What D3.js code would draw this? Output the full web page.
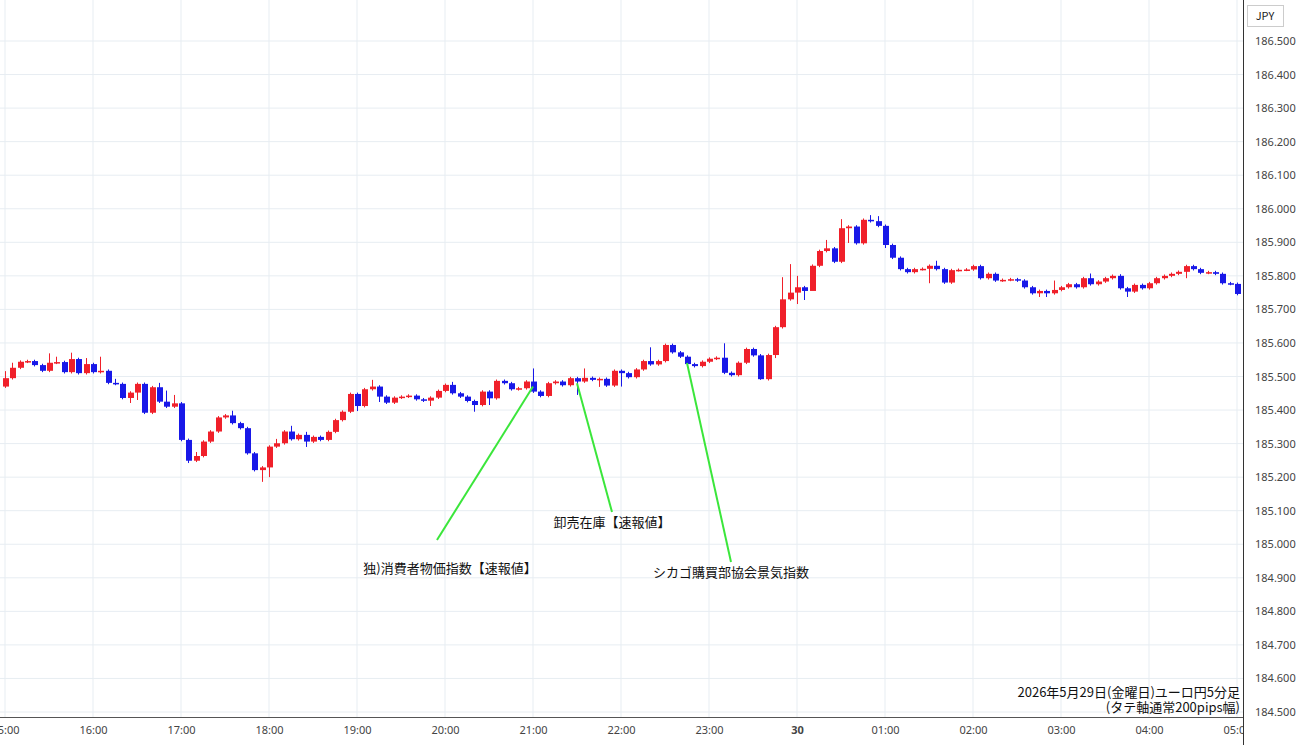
<!DOCTYPE html>
<html><head><meta charset="utf-8">
<script src="https://cdn.jsdelivr.net/npm/d3@7"></script>
<style>body{margin:0;background:#fff;font-family:"Noto Sans CJK JP","Noto Sans",sans-serif}</style>
</head><body><svg id="c" width="1300" height="745"></svg>
<script>
const firstOpen = 185.470;
const closes = [185.495,185.526,185.544,185.546,185.534,185.517,185.541,185.543,185.513,185.552,185.510,185.537,185.513,185.517,185.481,185.478,185.436,185.452,185.478,185.392,
185.468,185.425,185.410,185.420,185.311,185.249,185.263,185.306,185.336,185.378,185.384,185.361,185.346,185.271,185.221,185.229,185.291,185.301,185.336,185.313,
185.326,185.306,185.320,185.311,185.335,185.370,185.395,185.448,185.412,185.462,185.470,185.440,185.422,185.437,185.440,185.443,185.432,185.428,185.437,185.457,
185.475,185.450,185.440,185.427,185.415,185.455,185.435,185.487,185.480,185.462,185.465,185.485,185.455,185.442,185.480,185.485,185.474,185.495,185.485,185.496,
185.490,185.493,185.473,185.517,185.510,185.498,185.521,185.546,185.536,185.546,185.594,185.572,185.559,185.537,185.531,185.544,185.553,185.556,185.511,185.504,
185.541,185.582,185.563,185.492,185.564,185.647,185.730,185.750,185.766,185.755,185.830,185.874,185.882,185.842,185.942,185.947,185.897,185.967,185.963,185.949,
185.892,185.854,185.820,185.811,185.820,185.821,185.830,185.820,185.780,185.817,185.818,185.819,185.829,185.793,185.806,185.786,185.788,185.790,185.786,185.766,
185.748,185.755,185.748,185.758,185.766,185.775,185.766,185.793,185.775,185.783,185.793,185.800,185.763,185.753,185.773,185.763,185.778,185.793,185.800,185.806,
185.812,185.829,185.820,185.809,185.811,185.806,185.778,185.776,185.746];
// notable wick extremes (index: price); others use a short default wick
const highs = {0:185.516,1:185.541,6:185.569,7:185.559,9:185.571,11:185.555,13:185.559,15:185.493,21:185.481,22:185.458,23:185.445,26:185.275,30:185.388,31:185.398,37:185.314,39:185.353,41:185.335,
50:185.490,61:185.484,72:185.524,79:185.524,88:185.587,98:185.599,106:185.796,107:185.835,108:185.800,112:185.907,114:185.969,118:185.981,119:185.978,127:185.845,143:185.786,148:185.807,152:185.805};
const lows = {17:185.421,18:185.430,25:185.242,35:185.186,36:185.200,41:185.290,48:185.397,51:185.424,58:185.412,64:185.395,66:185.415,78:185.445,81:185.469,
84:185.470,103:185.490,105:185.555,108:185.716,109:185.728,110:185.811,113:185.838,115:185.898,120:185.883,121:185.850,126:185.778,141:185.737,142:185.737,153:185.737,161:185.793};
const hourLabels = ["15:00","16:00","17:00","18:00","19:00","20:00","21:00","22:00","23:00","30","01:00","02:00","03:00","04:00","05:00"];
const priceTicks = [184.5,184.6,184.7,184.8,184.9,185.0,185.1,185.2,185.3,185.4,185.5,185.6,185.7,185.8,185.9,186.0,186.1,186.2,186.3,186.4,186.5];
const notes = [
 {text:"独)消費者物価指数【速報値】", idx:72, price:185.470, lx:437, ly:540, tx:450, ty:573},
 {text:"卸売在庫【速報値】", idx:78, price:185.480, lx:612, ly:512, tx:612, ty:527},
 {text:"シカゴ購買部協会景気指数", idx:93, price:185.540, lx:731, ly:562, tx:731, ty:577}
];

const data = closes.map((c,i)=>{
  const o = i===0?firstOpen:closes[i-1];
  const h = highs[i]!==undefined?highs[i]:Math.max(o,c)+0.004;
  const l = lows[i]!==undefined?lows[i]:Math.min(o,c)-0.004;
  return {i,o,c,h,l};
});
const svg = d3.select("#c");
const W=1243, plotBottom=717;
const x = d3.scaleLinear().domain([0,12]).range([5,93]);
const y = d3.scaleLinear().domain([184.5,186.5]).range([712,41]);
const g = svg.append("g");
g.selectAll(".hg").data(priceTicks).join("line").attr("x1",0).attr("x2",W).attr("y1",d=>y(d)).attr("y2",d=>y(d)).attr("stroke","#e7edf2");
g.selectAll(".vg").data(hourLabels).join("line").attr("x1",(d,k)=>x(k*12)).attr("x2",(d,k)=>x(k*12)).attr("y1",0).attr("y2",plotBottom).attr("stroke","#e7edf2");
const defs = svg.append("defs");
defs.append("clipPath").attr("id","cp").append("rect").attr("x",0).attr("y",0).attr("width",W).attr("height",plotBottom);
defs.append("clipPath").attr("id","cp2").append("rect").attr("x",0).attr("y",0).attr("width",W).attr("height",40);
const cg = svg.append("g").attr("clip-path","url(#cp)");
const col = d=>d.c>=d.o?"#f0202a":"#1818e8";
cg.selectAll(".w").data(data).join("line").attr("x1",d=>Math.round(x(d.i))+0.5).attr("x2",d=>Math.round(x(d.i))+0.5)
  .attr("y1",d=>y(d.h)).attr("y2",d=>y(d.l)).attr("stroke",col).attr("stroke-width",1);
cg.selectAll(".b").data(data).join("rect").attr("x",d=>Math.round(x(d.i))-2).attr("width",6)
  .attr("y",d=>y(Math.max(d.o,d.c))).attr("height",d=>Math.max(1.5,Math.abs(y(d.o)-y(d.c)))).attr("fill",col);
notes.forEach(n=>{
  svg.append("line").attr("x1",x(n.idx)).attr("y1",y(n.price)).attr("x2",n.lx).attr("y2",n.ly).attr("stroke","#3be63b").attr("stroke-width",2);
  svg.append("text").attr("x",n.tx).attr("y",n.ty).attr("text-anchor","middle").attr("font-size",13).attr("fill","#111").text(n.text);
});
svg.append("line").attr("x1",W+0.5).attr("x2",W+0.5).attr("y1",0).attr("y2",745).attr("stroke","#333");
svg.append("line").attr("x1",0).attr("x2",W).attr("y1",plotBottom+0.5).attr("y2",plotBottom+0.5).attr("stroke","#555");
const ya = svg.append("g").attr("transform",`translate(${W},0)`).call(d3.axisRight(y).tickValues(priceTicks).tickFormat(d3.format(".3f")).tickSize(0).tickPadding(12));
ya.select(".domain").remove();
ya.selectAll("text").attr("font-size",11).attr("fill","#444").attr("font-family","Noto Sans, sans-serif");
svg.append("rect").attr("x",W+4.5).attr("y",5.5).attr("width",36).attr("height",21).attr("fill","#fff").attr("stroke","#ccc");
svg.append("text").attr("x",W+22).attr("y",20).attr("text-anchor","middle").attr("font-size",11).attr("fill","#222").text("JPY");
const xa = svg.append("g").attr("transform",`translate(0,${plotBottom})`).attr("clip-path","url(#cp2)");
xa.call(d3.axisBottom(x).tickValues(hourLabels.map((d,k)=>k*12)).tickFormat((d,k)=>hourLabels[k]).tickSize(0).tickPadding(9));
xa.select(".domain").remove();
xa.selectAll("text").attr("font-size",11).attr("fill","#444").attr("font-family","Noto Sans, sans-serif")
  .attr("font-weight",(d,k)=>hourLabels[k]==="30"?"bold":"normal");
svg.append("text").attr("x",1240).attr("y",697).attr("text-anchor","end").attr("font-size",13).attr("fill","#111").text("2026年5月29日(金曜日)ユーロ円5分足");
svg.append("text").attr("x",1240).attr("y",712).attr("text-anchor","end").attr("font-size",13).attr("fill","#111").text("(タテ軸通常200pips幅)");
</script></body></html>
